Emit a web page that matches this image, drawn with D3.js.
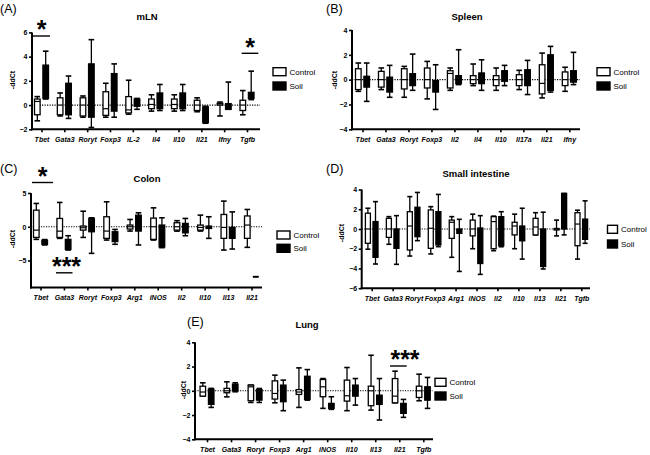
<!DOCTYPE html>
<html><head><meta charset="utf-8">
<script src="https://cdn.jsdelivr.net/npm/d3@7"></script>
<style>
body{margin:0;background:#fff}
svg{display:block}
text{font-family:"Liberation Sans",Arial,Helvetica,sans-serif;fill:#000}
</style>
</head><body>
<svg id="chart" width="650" height="455"></svg>
<script>
// ---------- DATA: each box = [min, q1, median, q3, max] of -ddCt ----------
const groups = ["Control", "Soil"];

const mlnGenes = ["Tbet","Gata3","Roryt","Foxp3","IL-2","Il4","Il10","Il21","Ifny","Tgfb"];
const mlnControl = [[-1.3,-0.8,0.3,0.5,0.7],[-0.9,-0.8,0,0.6,1.0],[-1.0,-0.9,0,0.6,0.75],[-1.0,-0.85,-0.3,1.1,1.8],[-0.75,-0.65,-0.4,0.7,2.05],
  [-0.5,-0.3,0.05,0.5,0.85],[-0.5,-0.3,0.05,0.5,0.85],[-0.55,-0.45,0,0.4,0.6],[-0.9,0,0.1,0.15,0.25],[-0.8,-0.45,0,0.4,1.2]];
const mlnSoil = [[0.5,0.55,2.0,3.3,4.45],[-1.1,-0.8,0.5,1.8,2.4],[-1.85,-1.0,0.8,3.4,5.4],[-1.0,-0.5,0.8,2.6,3.4],[-0.35,-0.1,0.3,0.5,0.55],
  [-0.45,-0.3,0.2,1.0,1.7],[-0.45,-0.3,0.2,1.0,1.7],[-1.5,-1.45,-0.8,-0.15,-0.1],[-0.35,-0.35,-0.1,0.12,1.9],[0.45,0.55,0.8,1.05,2.8]];
const mlnTicks = [-2,0,2,4,6];

const spleenGenes = ["Tbet","Gata3","Roryt","Foxp3","Il2","Il4","Il10","Il17a","Il21","Ifny"];
const spleenControl = [[-0.94,-0.8,0,0.88,1.34],[-0.8,-0.6,0,0.67,0.94],[-1.42,-0.75,0,0.88,1.07],[-1.55,-0.67,0,0.94,1.47],[-0.86,-0.67,0.5,0.72,0.94],
  [-0.48,-0.32,0,0.32,1.26],[-0.86,-0.48,0,0.32,0.94],[-0.8,-0.48,0,0.4,0.75],[-1.47,-1.15,-0.3,1.2,2.14],[-0.94,-0.48,0,0.62,1.0]];
const spleenSoil = [[-1.75,-0.6,-0.1,0.27,1.34],[-1.42,-1.0,-0.3,0.2,1.15],[-0.86,-0.48,0.1,0.48,2.06],[-2.4,-1.0,-0.5,-0.08,1.2],[-0.4,-0.32,0.1,0.32,2.41],
  [-0.86,-0.32,0.1,0.54,1.6],[-0.48,-0.13,0.3,0.72,1.15],[-1.2,-0.48,0.1,0.8,1.55],[-1.0,-0.86,0.5,2.0,2.68],[-0.4,-0.2,0.2,0.72,2.2]];
const spleenTicks = [-4,-2,0,2,4];

const colonGenes = ["Tbet","Gata3","Roryt","Foxp3","Arg1","iNOS","Il2","Il10","Il13","Il21"];
const colonControl = [[-1.87,-1.58,-0.5,2.46,3.45],[-1.72,-1.58,-0.65,1.23,3.6],[-1.58,-0.5,-0.15,0.1,2.3],[-1.97,-1.72,-0.64,1.48,3.7],[-0.64,-0.34,0,0.25,1.08],
  [-1.97,-1.87,0,1.28,2.8],[-0.65,-0.5,0,0.6,0.9],[-0.64,-0.5,-0.1,0.25,1.72],[-3.45,-1.72,-0.1,1.82,3.8],[-3.05,-1.72,0.25,1.6,2.56]];
const colonSoil = [[-2.7,-2.6,-2.3,-2.0,-1.9],[-3.45,-3.35,-2.5,-1.87,-1.33],[-3.94,-0.74,0.5,1.23,1.33],[-2.6,-2.2,-1.5,-0.74,-0.4],[-2.7,-0.64,0.5,1.72,2.07],
  [-3.1,-3.0,-1.0,0.25,1.33],[-1.33,-0.9,0,0.5,1.23],[-1.72,-0.25,0,0.1,1.48],[-3.3,-1.72,-0.8,-0.1,2.2],[-7.4,-7.4,-7.4,-7.4,-7.4]];
const colonTicks = [-5,0,5];

const siGenes = ["Tbet","Gata3","Roryt","Foxp3","Arg1","iNOS","Il2","Il10","Il13","Il21","Tgfb"];
const siControl = [[-2.05,-1.45,0,1.6,2.1],[-1.55,-0.85,0,1.08,1.25],[-2.74,-2.13,0.3,1.75,3.28],[-2.53,-1.96,0.07,1.93,2.26],[-2.87,-0.95,0.68,0.9,1.25],
  [-2.0,-0.7,0,0.9,1.5],[-2.2,-2.0,0.75,1.25,1.3],[-2.0,-0.6,0.3,0.68,1.5],[-0.6,-0.6,0.2,1.08,1.65],[-0.7,-0.1,0,0.05,0.9],[-3.05,-1.7,0.5,1.65,1.9]];
const siSoil = [[-3.55,-2.87,-1,0.75,2.77],[-3.58,-1.96,-1,0,1.35],[-1.18,-0.78,0.5,2.2,3.7],[-1.79,-1.62,0,1.76,3.5],[-4.3,-0.44,-0.2,0,0.98],
  [-4.6,-3.5,-1,0.1,1.35],[-1.8,-1.7,0,1.25,1.75],[-3.05,-1.2,-0.5,0.3,2.1],[-4.05,-3.8,-2,0,1.7],[-0.6,0,2,3.6,3.6],[-1.45,-1.05,0,1.0,2.85]];
const siTicks = [-6,-4,-2,0,2,4];

const lungGenes = ["Tbet","Gata3","Roryt","Foxp3","Arg1","iNOS","Il10","Il13","Il21","Tgfb"];
const lungControl = [[-0.44,-0.44,-0.1,0.38,0.66],[-0.5,-0.16,0,0.2,0.74],[-0.96,-0.82,0.33,0.47,0.47],[-0.99,-0.68,-0.22,0.82,1.29],[-1.37,-0.3,-0.1,0.1,1.89],
  [-1.45,-0.49,0.33,0.93,1.01],[-1.64,-0.85,-0.41,0.88,1.92],[-1.59,-1.23,0,0.38,2.93],[-0.99,-0.99,-0.44,1.01,1.62],[-0.82,-0.55,0,0.38,1.37]];
const lungSoil = [[-1.37,-1.12,-0.5,0.14,0.2],[-0.08,0,0.3,0.55,0.66],[-0.96,-0.77,-0.3,0.1,0.19],[-1.64,-0.9,-0.2,0.47,0.88],[-0.77,-0.71,0.3,1.2,1.75],
  [-1.53,-1.45,-1.2,-1.04,-0.49],[-1.18,-0.44,0,0.47,1.01],[-2.41,-1.12,-0.7,-0.36,1.01],[-2.19,-1.86,-1.5,-1.04,-0.71],[-1.45,-0.77,-0.2,0.33,1.1]];
const lungTicks = [-4,-2,0,2,4];

// ---------- LAYOUT ----------
const svg = d3.select("#chart");
const FONT = '"Liberation Sans",Arial,Helvetica,sans-serif';

function panel(p) {
  const g = svg.append("g");
  const y = d3.scaleLinear().domain(p.domain).range([p.yBot, p.yTop]);
  const x = d3.scalePoint().domain(p.genes).range([p.c0, p.cN]);
  const gx = d3.scalePoint().domain(groups).range([-p.off, p.off]);

  // dotted zero line
  g.append("line").attr("x1", p.x0).attr("x2", p.x1).attr("y1", y(0)).attr("y2", y(0))
    .attr("stroke", "#000").attr("stroke-width", 1.1).attr("stroke-dasharray", "1.2,1.3");

  const series = [{name: "Control", data: p.control, fill: "#fff"}, {name: "Soil", data: p.soil, fill: "#000"}];
  const hw = p.boxW / 2;
  series.forEach(s => {
    const items = s.data.map((d, i) => ({gene: p.genes[i], v: d}));
    const b = g.append("g").selectAll("g").data(items).join("g")
      .attr("transform", d => `translate(${x(d.gene) + gx(s.name)},0)`);
    b.append("line").attr("x1", 0).attr("x2", 0).attr("y1", d => y(d.v[0])).attr("y2", d => y(d.v[4]))
      .attr("stroke", "#000").attr("stroke-width", 1.3);
    b.append("line").attr("x1", -hw).attr("x2", hw).attr("y1", d => y(d.v[4])).attr("y2", d => y(d.v[4]))
      .attr("stroke", "#000").attr("stroke-width", 1.6);
    b.append("line").attr("x1", -hw).attr("x2", hw).attr("y1", d => y(d.v[0])).attr("y2", d => y(d.v[0]))
      .attr("stroke", "#000").attr("stroke-width", 1.6);
    b.append("rect").attr("x", -hw).attr("width", p.boxW)
      .attr("y", d => y(d.v[3])).attr("height", d => Math.max(0, y(d.v[1]) - y(d.v[3])))
      .attr("fill", s.fill).attr("stroke", "#000").attr("stroke-width", 1.3);
    b.append("line").attr("x1", -hw).attr("x2", hw).attr("y1", d => y(d.v[2])).attr("y2", d => y(d.v[2]))
      .attr("stroke", "#000").attr("stroke-width", 1.2);
  });

  // axes
  const ya = g.append("g").attr("transform", `translate(${p.x0},0)`)
    .call(d3.axisLeft(y).tickValues(p.ticks).tickSize(3).tickSizeOuter(0).tickFormat(d3.format("d")));
  ya.select(".domain").remove();
  ya.selectAll(".tick line").attr("stroke-width", 1.6);
  ya.selectAll(".tick text").attr("font-family", FONT).attr("font-size", 7).attr("font-weight", "bold")
    .attr("fill", "#000").attr("x", -4.5);
  g.append("line").attr("x1", p.x0).attr("x2", p.x0).attr("y1", y(p.domain[1])).attr("y2", p.yBot + 1)
    .attr("stroke", "#000").attr("stroke-width", 2);

  const xa = g.append("g").attr("transform", `translate(0,${p.yBot})`)
    .call(d3.axisBottom(x).tickSize(3).tickSizeOuter(0));
  xa.select(".domain").remove();
  xa.selectAll(".tick line").attr("stroke-width", 1.6);
  xa.selectAll(".tick text").attr("font-family", FONT).attr("font-size", 7).attr("font-weight", "bold")
    .attr("font-style", "italic").attr("fill", "#000").attr("y", 7.5);
  g.append("line").attr("x1", p.x0 - 1).attr("x2", p.x1).attr("y1", p.yBot).attr("y2", p.yBot)
    .attr("stroke", "#000").attr("stroke-width", 2);

  // y label
  g.append("text").attr("transform", `translate(${p.ylx},${p.yly}) rotate(-90)`)
    .attr("text-anchor", "middle").attr("dy", "0.35em").attr("font-size", 7).attr("font-weight", "bold").text("-ddCt");
  // title & panel letter
  g.append("text").attr("x", p.tx).attr("y", p.ty).attr("text-anchor", "middle").attr("font-size", 9.5)
    .attr("font-weight", "bold").text(p.title);
  g.append("text").attr("x", p.lx).attr("y", p.ly).attr("font-size", 12.5).text(p.letter);

  // legend
  groups.forEach((name, i) => {
    const cy = p.legY[i];
    g.append("rect").attr("x", p.legX).attr("y", cy - 4).attr("width", p.legW).attr("height", 8)
      .attr("fill", i === 0 ? "#fff" : "#000").attr("stroke", "#000").attr("stroke-width", 1.4);
    g.append("text").attr("x", p.legX + p.legW + 3.5).attr("y", cy).attr("dy", "0.35em").attr("font-size", 8).text(name);
  });

  // significance
  (p.sig || []).forEach(s => {
    g.append("line").attr("x1", s.x1).attr("x2", s.x2).attr("y1", s.ly).attr("y2", s.ly)
      .attr("stroke", "#000").attr("stroke-width", 1.4);
    g.append("text").attr("x", s.sx).attr("y", s.sy + 9).attr("text-anchor", "middle")
      .attr("font-size", 25).attr("font-weight", "bold").attr("letter-spacing", 0).text(s.text);
  });
  return {x, y};
}

panel({genes: mlnGenes, control: mlnControl, soil: mlnSoil, ticks: mlnTicks, domain: [-2, 6],
  yBot: 129.3, yTop: 32.4, x0: 32, x1: 260, c0: 41.5, cN: 247, boxW: 5.6, off: 4.2,
  ylx: 13, yly: 80, tx: 147, ty: 20, title: "mLN", lx: 0, ly: 12.5, letter: "(A)",
  legX: 273, legW: 13, legY: [71.7, 86],
  sig: [{x1: 32, x2: 50, ly: 36, sx: 41.7, sy: 29.3, text: "*"},
        {x1: 241.7, x2: 258.3, ly: 53.3, sx: 250, sy: 47, text: "*"}]});

panel({genes: spleenGenes, control: spleenControl, soil: spleenSoil, ticks: spleenTicks, domain: [-4, 4],
  yBot: 129.3, yTop: 30, x0: 352, x1: 580, c0: 362.5, cN: 569.3, boxW: 5.6, off: 4.2,
  ylx: 335, yly: 80, tx: 467, ty: 20, title: "Spleen", lx: 326, ly: 12.5, letter: "(B)",
  legX: 597, legW: 13, legY: [71.7, 86]});

panel({genes: colonGenes, control: colonControl, soil: colonSoil, ticks: colonTicks, domain: [-9, 5],
  yBot: 287.5, yTop: 193, x0: 31, x1: 262, c0: 40.5, cN: 251.5, boxW: 5.6, off: 4.2,
  ylx: 13, yly: 239, tx: 147, ty: 182, title: "Colon", lx: 0, ly: 172.5, letter: "(C)",
  legX: 277, legW: 13, legY: [235, 248.3],
  sig: [{x1: 32, x2: 53, ly: 182.5, sx: 42.7, sy: 176, text: "*"},
        {x1: 56, x2: 72.5, ly: 272.8, sx: 66.5, sy: 265.5, text: "***"}]});

panel({genes: siGenes, control: siControl, soil: siSoil, ticks: siTicks, domain: [-6, 4],
  yBot: 288.2, yTop: 189.5, x0: 361.7, x1: 590, c0: 371.7, cN: 581.3, boxW: 5, off: 3.8,
  ylx: 341.7, yly: 233, tx: 476, ty: 177, title: "Small intestine", lx: 326, ly: 172.5, letter: "(D)",
  legX: 607.5, legW: 10, legY: [229.3, 244]});

panel({genes: lungGenes, control: lungControl, soil: lungSoil, ticks: lungTicks, domain: [-4, 4],
  yBot: 439.3, yTop: 342.3, x0: 195, x1: 433, c0: 207, cN: 423.3, boxW: 5.5, off: 4.2,
  ylx: 184, yly: 390, tx: 307, ty: 328, title: "Lung", lx: 187, ly: 326, letter: "(E)",
  legX: 435, legW: 11, legY: [382.3, 396],
  sig: [{x1: 390, x2: 406.7, ly: 366, sx: 405, sy: 358.5, text: "***"}]});
</script>
</body></html>
